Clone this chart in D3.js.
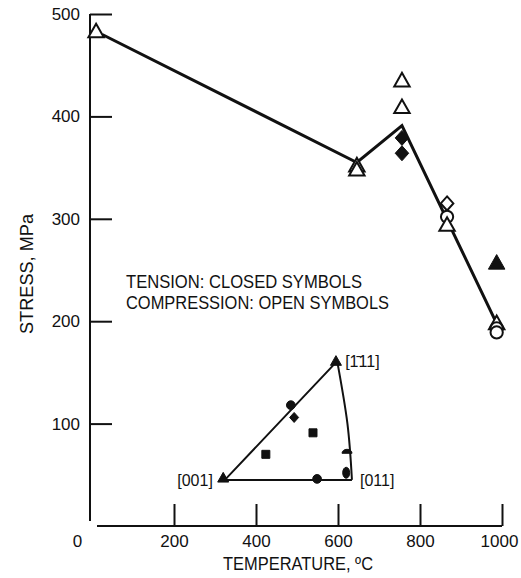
<!DOCTYPE html>
<html><head><meta charset="utf-8">
<script src="https://cdn.jsdelivr.net/npm/d3@7/dist/d3.min.js"></script>
<style>
body{margin:0;background:#fff;}
text{font-family:"Liberation Sans",Arial,sans-serif;fill:#111;}
</style></head><body>
<svg id="c" width="521" height="578"></svg>
<script>
// ---- data ----
const xTicks = [0, 200, 400, 600, 800, 1000];
const yTicks = [100, 200, 300, 400, 500];
// fitted curve (temperature C, stress MPa)
const lineTemp = [25, 646, 756, 983];
const lineStress = [480, 355, 391, 201];
// compression (open symbols)
const openTemp   = [10, 646, 646, 756, 756, 866, 866, 866, 987, 987, 987];
const openStress = [483, 352, 348, 435, 409, 315, 302, 294, 198, 193, 189];
const openShape  = ["tri","tri","tri","tri","tri","dia","circ","tri","tri","circ","circ"];
// tension (closed symbols)
const closedTemp   = [756, 756, 987];
const closedStress = [379, 364, 257];
const closedShape  = ["dia","dia","tri"];
// inset stereographic triangle (drawn in chart units)
const triCorners = [[324, 45], [598, 161], [634, 45]];
const triArc = [[598, 161], [623, 100], [634, 45]];
const insetPtsT = [320, 595, 485, 493, 539, 424, 549, 622, 620];
const insetPtsS = [47, 161, 118, 106, 91, 70, 46, 71, 52];
const insetShape = ["tri","tri","circ","dia","sq","sq","circ","half","ell"];
const insetLabels = ["[001]", "[1\u030411]", "[011]"];

const svg = d3.select("#c");
const x = d3.scaleLinear().domain([0, 1000]).range([92, 502]);
const y = d3.scaleLinear().domain([0, 500]).range([526, 14]);

// axes
const yAx = svg.append("g").attr("transform", "translate(90,0)")
  .call(d3.axisLeft(y).tickValues(yTicks).tickFormat(d3.format("d")).tickSize(-22).tickSizeOuter(0).tickPadding(10));
yAx.selectAll("text").style("font-size", "17px").attr("fill", "#111");
yAx.selectAll("line,path").attr("stroke", "#111").attr("stroke-width", 2);
yAx.select(".domain").attr("d", `M0,${y(500)}V${y(0) - 5}`);

const xAx = svg.append("g").attr("transform", `translate(0,${y(0)})`)
  .call(d3.axisBottom(x).tickValues(xTicks).tickFormat(d3.format("d")).tickSize(-22).tickSizeOuter(0).tickPadding(9));
xAx.selectAll("text").style("font-size", "17px").attr("fill", "#111");
xAx.selectAll("line,path").attr("stroke", "#111").attr("stroke-width", 2);
xAx.select(".domain").attr("d", `M${x(0) + 5},0H${x(1000)}`);
xAx.selectAll(".tick").filter(d => d === 0).select("line").remove();
xAx.selectAll(".tick").filter(d => d === 0).select("text").attr("dx", -15);
xAx.selectAll(".tick").filter(d => d === 1000).select("text").attr("dx", -3);

svg.append("text").attr("x", 223).attr("y", 570)
  .attr("textLength", 150).attr("lengthAdjust", "spacingAndGlyphs")
  .style("font-size", "18px").text("TEMPERATURE, \u00BAC");
svg.append("text").attr("transform", "translate(33,274) rotate(-90)").attr("text-anchor", "middle")
  .attr("textLength", 120).attr("lengthAdjust", "spacingAndGlyphs")
  .style("font-size", "18px").text("STRESS, MPa");

// legend text
svg.append("text").attr("x", 126).attr("y", 288)
  .attr("textLength", 236).attr("lengthAdjust", "spacingAndGlyphs")
  .style("font-size", "18px").text("TENSION: CLOSED SYMBOLS");
svg.append("text").attr("x", 126).attr("y", 309)
  .attr("textLength", 263).attr("lengthAdjust", "spacingAndGlyphs")
  .style("font-size", "18px").text("COMPRESSION: OPEN SYMBOLS");

// curve
svg.append("path").datum(lineTemp.map((t, i) => [t, lineStress[i]]))
  .attr("d", d3.line().x(d => x(d[0])).y(d => y(d[1])))
  .attr("fill", "none").attr("stroke", "#111").attr("stroke-width", 3).attr("stroke-linejoin", "miter");

function sym(shape, size) {
  const s = size;
  if (shape === "tri") return `M0,${-s * 0.55}L${s * 0.55},${s * 0.42}L${-s * 0.55},${s * 0.42}Z`;
  if (shape === "dia") return `M0,${-s * 0.5}L${s * 0.45},0L0,${s * 0.5}L${-s * 0.45},0Z`;
  if (shape === "circ") return d3.symbol(d3.symbolCircle, s * s * 0.6)();
  if (shape === "sq") return `M${-s * 0.4},${-s * 0.4}H${s * 0.4}V${s * 0.4}H${-s * 0.4}Z`;
  if (shape === "half") return `M${-s * 0.5},0A${s * 0.5},${s * 0.4} 0 0 1 ${s * 0.5},0Z`;
  if (shape === "ell") return `M0,${-s * 0.55}A${s * 0.35},${s * 0.55} 0 1 1 0,${s * 0.55}A${s * 0.35},${s * 0.55} 0 1 1 0,${-s * 0.55}`;
}

svg.append("g").selectAll("path").data(openTemp.map((t, i) => i)).join("path")
  .attr("transform", i => `translate(${x(openTemp[i])},${y(openStress[i])})`)
  .attr("d", i => sym(openShape[i], 14))
  .attr("fill", "#fff").attr("stroke", "#111").attr("stroke-width", 2);

svg.append("g").selectAll("path").data(closedTemp.map((t, i) => i)).join("path")
  .attr("transform", i => `translate(${x(closedTemp[i])},${y(closedStress[i])})`)
  .attr("d", i => sym(closedShape[i], 15))
  .attr("fill", "#111").attr("stroke", "#111").attr("stroke-width", 1);

// inset triangle
const ig = svg.append("g");
ig.append("path")
  .attr("d", `M${x(triCorners[1][0])},${y(triCorners[1][1])}L${x(triCorners[0][0])},${y(triCorners[0][1])}L${x(triCorners[2][0])},${y(triCorners[2][1])}`)
  .attr("fill", "none").attr("stroke", "#111").attr("stroke-width", 2);
ig.append("path").datum(triArc)
  .attr("d", d3.line().x(d => x(d[0])).y(d => y(d[1])).curve(d3.curveNatural))
  .attr("fill", "none").attr("stroke", "#111").attr("stroke-width", 2);
ig.selectAll("path.pt").data(insetPtsT.map((t, i) => i)).join("path").attr("class", "pt")
  .attr("transform", i => `translate(${x(insetPtsT[i])},${y(insetPtsS[i])})`)
  .attr("d", i => sym(insetShape[i], 10))
  .attr("fill", "#111").attr("stroke", "#111").attr("stroke-width", 1);
ig.append("text").attr("x", x(triCorners[0][0]) - 12).attr("y", y(triCorners[0][1]) + 6)
  .attr("text-anchor", "end").style("font-size", "16px").text(insetLabels[0]);
ig.append("text").attr("x", x(triCorners[1][0]) + 8).attr("y", y(triCorners[1][1]) + 6)
  .style("font-size", "16px").text(insetLabels[1]);
ig.append("text").attr("x", x(triCorners[2][0]) + 8).attr("y", y(triCorners[2][1]) + 6)
  .style("font-size", "16px").text(insetLabels[2]);
</script></body></html>
